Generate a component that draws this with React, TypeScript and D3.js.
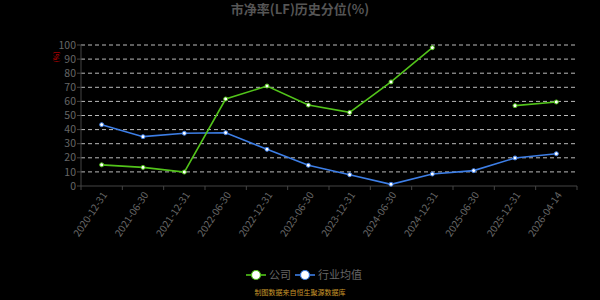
import React from "react";
import * as d3 from "d3";

const categories = ["2020-12-31","2021-06-30","2021-12-31","2022-06-30","2022-12-31","2023-06-30","2023-12-31","2024-06-30","2024-12-31","2025-06-30","2025-12-31","2026-04-14"];
const companyValues: (number | null)[] = [15, 13.2, 9.9, 61.7, 70.9, 57.4, 52.2, 73.8, 98.1, null, 57, 59.6];
const industryValues: number[] = [43.5, 35, 37.4, 37.8, 26, 14.7, 8, 1.2, 8.5, 10.9, 19.9, 22.9];
const yTicks = [0, 10, 20, 30, 40, 50, 60, 70, 80, 90, 100];
const seriesNames = ["公司", "行业均值"];

const W = 600, H = 300;
const left = 81, right = 577, top = 45, bottom = 186;
const GREEN = "#52c41a";
const BLUE = "#3d7ee6";
const FONT = "'Noto Sans CJK SC', 'Noto Sans', sans-serif";

export default function App() {
  const x = d3.scaleBand<string>().domain(categories).range([left, right]);
  const y = d3.scaleLinear().domain([0, 100]).range([bottom, top]);
  const cx = (c: string) => (x(c) as number) + x.bandwidth() / 2;

  const line = d3.line<[string, number | null]>()
    .defined(d => d[1] !== null)
    .x(d => cx(d[0]))
    .y(d => y(d[1] as number));

  const compData = categories.map((c, i) => [c, companyValues[i]] as [string, number | null]);
  const indData = categories.map((c, i) => [c, industryValues[i]] as [string, number | null]);
  const boundaries = categories.map(c => x(c) as number).concat([right]);

  return (
    <div style={{ position: "absolute", left: 0, top: 0 }}>
      <svg width={W} height={H} style={{ display: "block", background: "#000" }} fontFamily={FONT}>
        <rect x={0} y={0} width={W} height={H} fill="#000" />
        <text x={300} y={14} textAnchor="middle" fontSize={13} fontWeight="bold" fill="#555">市净率(LF)历史分位(%)</text>
        {/* grid */}
        {yTicks.filter(t => t > 0).map(t => (
          <line key={t} x1={left} x2={right} y1={y(t)} y2={y(t)} stroke="#bbb" strokeWidth={1} strokeDasharray="4,3" />
        ))}
        {/* y axis */}
        <line x1={left} x2={left} y1={top} y2={bottom} stroke="#444" />
        {yTicks.map(t => (
          <g key={t}>
            <line x1={left - 4} x2={left} y1={y(t)} y2={y(t)} stroke="#444" />
            <text x={left - 5} y={y(t)} dy="0.35em" textAnchor="end" fontSize={10.5} fill="#666">{t}</text>
          </g>
        ))}
        <text transform={`translate(57,57) rotate(-90)`} textAnchor="middle" fontSize={7} fill="#d00" dy="0.35em">(%)</text>
        {/* x axis */}
        <line x1={left} x2={right} y1={bottom} y2={bottom} stroke="#444" />
        {boundaries.map((b, i) => (
          <line key={i} x1={b} x2={b} y1={bottom} y2={bottom + 4} stroke="#444" />
        ))}
        {categories.map(c => (
          <text key={c} transform={`translate(${cx(c) + 3},${bottom + 7}) rotate(-56)`} textAnchor="end" dy="0.35em" fontSize={10} fill="#666">{c}</text>
        ))}
        {/* lines */}
        <path d={line(indData) || ""} fill="none" stroke={BLUE} strokeWidth={1.6} />
        <path d={line(compData) || ""} fill="none" stroke={GREEN} strokeWidth={1.6} />
        {indData.map(d => (
          <circle key={"i" + d[0]} cx={cx(d[0])} cy={y(d[1] as number)} r={2} fill="#fff" stroke={BLUE} strokeWidth={1} />
        ))}
        {compData.filter(d => d[1] !== null).map(d => (
          <circle key={"c" + d[0]} cx={cx(d[0])} cy={y(d[1] as number)} r={2} fill="#fff" stroke={GREEN} strokeWidth={1} />
        ))}
        {/* legend */}
        <g>
          <line x1={246} x2={266} y1={275} y2={275} stroke={GREEN} strokeWidth={1.6} />
          <circle cx={256} cy={275} r={4.5} fill="#fff" stroke={GREEN} strokeWidth={1.2} />
          <text x={269} y={275} dy="0.35em" fontSize={11} fill="#666">{seriesNames[0]}</text>
          <line x1={295} x2={315} y1={275} y2={275} stroke={BLUE} strokeWidth={1.6} />
          <circle cx={305} cy={275} r={4.5} fill="#fff" stroke={BLUE} strokeWidth={1.2} />
          <text x={318} y={275} dy="0.35em" fontSize={11} fill="#666">{seriesNames[1]}</text>
        </g>
        <text x={300} y={295} textAnchor="middle" fontSize={7} fill="#c8962a">制图数据来自恒生聚源数据库</text>
      </svg>
    </div>
  );
}
